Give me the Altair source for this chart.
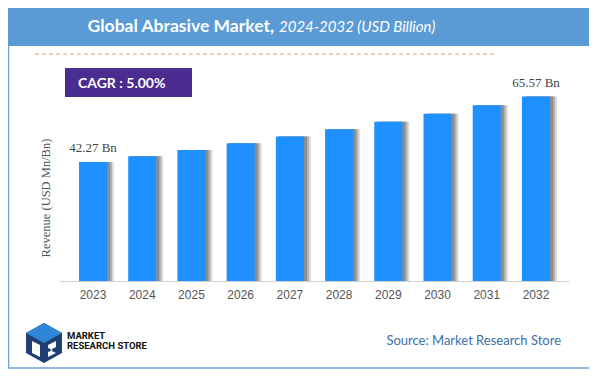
import altair as alt
import pandas as pd

years = ["2023", "2024", "2025", "2026", "2027", "2028", "2029", "2030", "2031", "2032"]
values = [42.27, 44.38, 46.60, 48.93, 51.38, 53.95, 56.64, 59.48, 62.45, 65.57]
labels = ["42.27 Bn", "", "", "", "", "", "", "", "", "65.57 Bn"]

title_main = "Global Abrasive Market,"
title_sub = "2024-2032 (USD Billion)"
cagr_text = "CAGR : 5.00%"
y_title = "Revenue (USD Mn/Bn)"
source_text = "Source: Market Research Store"
logo_line1 = "MARKET"
logo_line2 = "RESEARCH STORE"

df = pd.DataFrame({"year": years, "value": values, "label": labels})
one = pd.DataFrame({"a": [0]})

W, H = 509, 211
PL, PT = 52, 62
TOTAL_W, TOTAL_H = 581, 361

def px(x):  # page x -> plot x
    return x - 60
def py(y):  # page y -> plot y
    return y - 70

xenc = alt.X("year:N", sort=years, title=None,
             scale=alt.Scale(paddingInner=0.43, paddingOuter=0.386),
             axis=alt.Axis(labelAngle=0, ticks=False, grid=False, domainColor="#d0d0d0",
                           labelColor="#555555", labelFont="Liberation Sans", labelFontSize=12,
                           labelPadding=8, zindex=1))
yenc = alt.Y("value:Q", scale=alt.Scale(domain=[0, 75], nice=False), axis=None)

base = alt.Chart(df)
shadow_light = base.mark_bar(xOffset=7, color="#dcdcdc").encode(x=xenc, y=yenc)
shadow_mid = base.mark_bar(xOffset=5, color="#b0b0b0").encode(x=xenc, y=yenc)
shadow_dark = base.mark_bar(xOffset=3, color="#8c8c8c").encode(x=xenc, y=yenc)
bars = base.mark_bar(color="#1e90ff").encode(x=xenc, y=yenc)
lbl = base.mark_text(baseline="bottom", dy=-7, font="Liberation Serif", fontSize=13,
                     color="#444444").encode(x=xenc, y=yenc, text="label:N")

deco = alt.Chart(one)
border = deco.mark_rect(fill="transparent", stroke="#6fa3d8", strokeWidth=1.5).encode(
    x=alt.value(px(8.5)), x2=alt.value(px(591)), y=alt.value(py(8.5)), y2=alt.value(py(368)))
titlebar = deco.mark_rect(fill="#5b9bd5").encode(
    x=alt.value(px(8)), x2=alt.value(px(591.5)), y=alt.value(py(8)), y2=alt.value(py(46)))
t1 = deco.mark_text(align="right", baseline="middle", font="Lato", fontWeight="bold",
                    fontSize=17.5, color="white").encode(
    x=alt.value(px(274)), y=alt.value(py(27)), text=alt.value(title_main))
t2 = deco.mark_text(align="left", baseline="middle", font="Lato", fontStyle="italic",
                    fontSize=15, color="white").encode(
    x=alt.value(px(279)), y=alt.value(py(27)), text=alt.value(title_sub))
dash = deco.mark_rule(stroke="#f0a060", strokeDash=[4, 3], strokeWidth=1.2).encode(
    x=alt.value(px(35)), x2=alt.value(px(497)), y=alt.value(py(54)))
cagr_box = deco.mark_rect(fill="#4b2c91").encode(
    x=alt.value(px(65)), x2=alt.value(px(192)), y=alt.value(py(68)), y2=alt.value(py(97)))
cagr = deco.mark_text(align="left", baseline="middle", font="Lato", fontWeight="bold",
                      fontSize=14, color="white").encode(
    x=alt.value(px(78)), y=alt.value(py(84)), text=alt.value(cagr_text))
ytitle = deco.mark_text(angle=270, baseline="middle", font="Liberation Serif", fontSize=12.5,
                        color="#555555").encode(
    x=alt.value(px(46)), y=alt.value(py(198)), text=alt.value(y_title))
source = deco.mark_text(align="right", baseline="middle", font="Lato", fontSize=13,
                        color="#3a6fa8").encode(
    x=alt.value(px(561)), y=alt.value(py(341)), text=alt.value(source_text))
l1 = deco.mark_text(align="left", baseline="middle", font="Roboto", fontWeight="bold",
                    fontSize=9.5, color="#111111").encode(
    x=alt.value(px(67)), y=alt.value(py(335.5)), text=alt.value(logo_line1))
l2 = deco.mark_text(align="left", baseline="middle", font="Roboto", fontWeight="bold",
                    fontSize=9.5, color="#111111").encode(
    x=alt.value(px(67)), y=alt.value(py(345.5)), text=alt.value(logo_line2))

hexagon = "M0,-1 L0.9,-0.5 L0.9,0.5 L0,1 L-0.9,0.5 L-0.9,-0.5 Z"
top_face = "M0,-1 L0.9,-0.5 L0,0 L-0.9,-0.5 Z"
letters = "M-0.6,-0.1 L-0.2,0.1 L-0.2,0.7 L-0.6,0.5 Z M0.2,0.1 L0.6,-0.1 L0.6,0.2 L0.3,0.35 L0.6,0.5 L0.2,0.7 L0.2,0.45 L0.45,0.35 L0.2,0.25 Z"
logo_hex = deco.mark_point(shape=hexagon, filled=True, fill="#1f3e73", size=1600, opacity=1).encode(
    x=alt.value(px(44)), y=alt.value(py(343)))
logo_top = deco.mark_point(shape=top_face, filled=True, fill="#2f86d6", size=1600, opacity=1).encode(
    x=alt.value(px(44)), y=alt.value(py(343)))
logo_let = deco.mark_point(shape=letters, filled=True, fill="#ffffff", size=1600, opacity=1).encode(
    x=alt.value(px(44)), y=alt.value(py(343)))

chart = alt.layer(
    border, titlebar, t1, t2, dash, cagr_box, cagr, ytitle, source, l1, l2,
    logo_hex, logo_top, logo_let, shadow_light, shadow_mid, shadow_dark, bars, lbl
).properties(
    width=W, height=H,
    background="white",
    autosize=alt.AutoSizeParams(type="none"),
    padding={"left": PL, "top": PT, "right": TOTAL_W - PL - W, "bottom": TOTAL_H - PT - H},
).configure_view(stroke=None)

chart.save("out.html", embed_options={"renderer": "svg", "actions": False})
